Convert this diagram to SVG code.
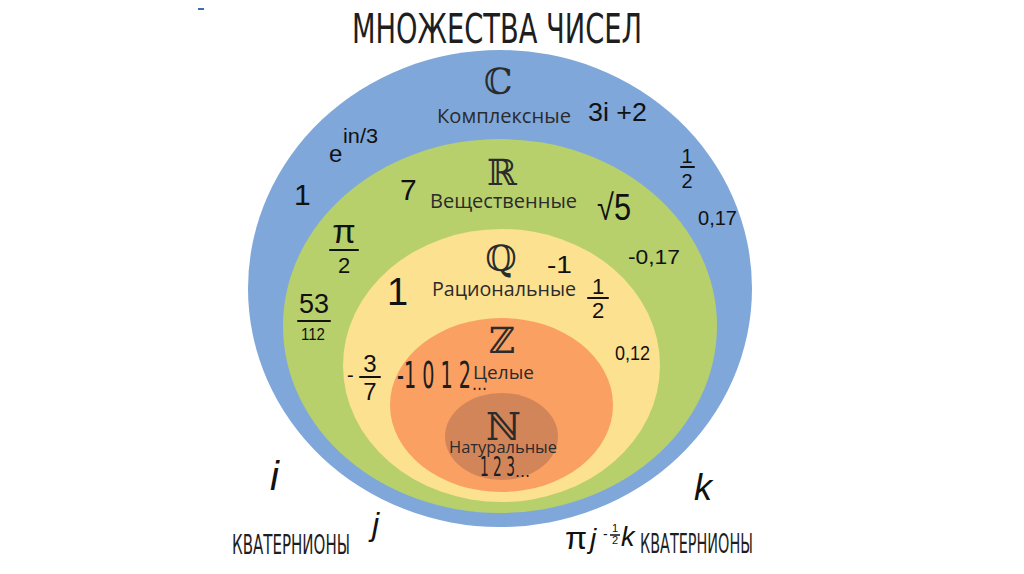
<svg xmlns="http://www.w3.org/2000/svg" width="1024" height="574" viewBox="0 0 1024 574">
<style>
.lbl{font-family:"Open Sans","Noto Sans","DejaVu Sans",sans-serif;fill:#2b2b2b}
.sym{font-family:"DejaVu Serif","DejaVu Sans",serif;fill:#2b2b2b;text-anchor:middle}
.hw{font-family:"Liberation Sans","DejaVu Sans",sans-serif;fill:#111}
.hwi{font-family:"Liberation Sans","DejaVu Sans",sans-serif;font-style:italic;fill:#111}
.cond{font-family:"DejaVu Sans","Liberation Sans",sans-serif;font-stretch:condensed;fill:#1e1e1e}
.bar{stroke:#111;stroke-width:2;stroke-linecap:round;fill:none}
</style>
<rect width="1024" height="574" fill="#ffffff"/>
<rect x="198" y="8" width="6" height="2" fill="#3a6fb0"/>
<text class="cond" x="352" y="43" font-size="40" textLength="290" lengthAdjust="spacingAndGlyphs">МНОЖЕСТВА ЧИСЕЛ</text>

<g id="set-C">
<ellipse cx="500" cy="288.5" rx="252" ry="238.5" fill="#7FA7DA"/>
<text class="sym" x="498" y="94" font-size="36">ℂ</text>
<text class="lbl" x="437" y="123" font-size="20" textLength="134" lengthAdjust="spacingAndGlyphs">Комплексные</text>
</g>
<g id="set-R">
<ellipse cx="500" cy="326" rx="217" ry="187" fill="#B7D06B"/>
<text class="sym" x="502" y="185" font-size="36">ℝ</text>
<text class="lbl" x="430" y="208" font-size="20" textLength="147" lengthAdjust="spacingAndGlyphs">Вещественные</text>
</g>
<g id="set-Q">
<ellipse cx="501.5" cy="365.5" rx="158.5" ry="136.5" fill="#FCE190"/>
<text class="sym" x="501" y="271" font-size="36">ℚ</text>
<text class="lbl" x="432" y="296" font-size="20" textLength="144" lengthAdjust="spacingAndGlyphs">Рациональные</text>
</g>
<g id="set-Z">
<ellipse cx="501.5" cy="405" rx="111.5" ry="87" fill="#F9A062"/>
<text class="sym" x="502" y="353" font-size="36">ℤ</text>
<text class="lbl" x="473" y="379" font-size="19" textLength="61" lengthAdjust="spacingAndGlyphs">Целые</text>
</g>
<g id="set-N">
<ellipse cx="501.5" cy="436.5" rx="56.5" ry="43.5" fill="#D3855A"/>
<text class="sym" x="503" y="440" font-size="38">ℕ</text>
<text class="lbl" x="449" y="453" font-size="16" textLength="108" lengthAdjust="spacingAndGlyphs">Натуральные</text>
</g>

<g id="connectors"></g>

<g id="examples">
<text class="hw" x="588" y="121" font-size="25" textLength="59" lengthAdjust="spacingAndGlyphs">3i +2</text>
<text class="hw" x="329" y="162" font-size="24">e</text>
<text class="hw" x="343" y="143" font-size="20" textLength="35" lengthAdjust="spacingAndGlyphs">in/3</text>
<text class="hw" x="294" y="205" font-size="30">1</text>
<text class="hw" x="687" y="163" font-size="20" text-anchor="middle">1</text>
<line class="bar" x1="681" y1="167" x2="694" y2="167"/>
<text class="hw" x="687" y="188" font-size="20" text-anchor="middle">2</text>
<text class="hw" x="698" y="225" font-size="20" textLength="39" lengthAdjust="spacingAndGlyphs">0,17</text>
<text class="hw" x="400" y="200" font-size="30">7</text>
<text class="hw" x="597" y="220" font-size="36" textLength="34" lengthAdjust="spacingAndGlyphs" font-family="DejaVu Sans">√5</text>
<text class="hw" x="344" y="243" font-size="34" text-anchor="middle" font-family="DejaVu Sans">π</text>
<line class="bar" x1="330" y1="250" x2="358" y2="250"/>
<text class="hw" x="344" y="273" font-size="22" text-anchor="middle">2</text>
<text class="hw" x="314" y="313" font-size="27" text-anchor="middle">53</text>
<line class="bar" x1="298" y1="321" x2="330" y2="321"/>
<text class="hw" x="313" y="340" font-size="17" text-anchor="middle" textLength="24" lengthAdjust="spacingAndGlyphs">112</text>
<text class="hw" x="628" y="264" font-size="21" textLength="52" lengthAdjust="spacingAndGlyphs">-0,17</text>
<text class="hw" x="387" y="305" font-size="38">1</text>
<text class="hw" x="547" y="273" font-size="24" textLength="25" lengthAdjust="spacingAndGlyphs">-1</text>
<text class="hw" x="598" y="294" font-size="22" text-anchor="middle">1</text>
<line class="bar" x1="588" y1="298" x2="608" y2="298"/>
<text class="hw" x="598" y="318" font-size="22" text-anchor="middle">2</text>
<text class="hw" x="615" y="360" font-size="21" textLength="35" lengthAdjust="spacingAndGlyphs">0,12</text>
<text class="hw" x="347" y="382" font-size="20">-</text>
<text class="hw" x="370" y="372" font-size="24" text-anchor="middle">3</text>
<line class="bar" x1="360" y1="377" x2="380" y2="377"/>
<text class="hw" x="370" y="400" font-size="24" text-anchor="middle">7</text>
<text class="cond" x="397" y="388" font-size="38" textLength="74" lengthAdjust="spacingAndGlyphs">-1 0 1 2</text>
<text class="cond" x="472" y="390" font-size="18" textLength="15" lengthAdjust="spacingAndGlyphs">...</text>
<text class="cond" x="480" y="476" font-size="27" textLength="35" lengthAdjust="spacingAndGlyphs">1 2 3</text>
<text class="cond" x="515" y="477" font-size="16" textLength="15" lengthAdjust="spacingAndGlyphs">...</text>
<text class="hwi" x="270" y="490" font-size="40">i</text>
<text class="hwi" x="372" y="535" font-size="32">j</text>
<text class="hwi" x="694" y="500" font-size="36">k</text>
<text class="hw" x="565" y="549" font-size="32" font-family="DejaVu Sans">π</text>
<text class="hwi" x="590" y="548" font-size="28">j</text>
<text class="hw" x="603" y="539" font-size="14">-</text>
<text class="hw" x="615" y="532" font-size="11" text-anchor="middle">1</text>
<line x1="610" y1="535" x2="620" y2="535" stroke="#111" stroke-width="1.5"/>
<text class="hw" x="615" y="544" font-size="11" text-anchor="middle">2</text>
<text class="hwi" x="621" y="546" font-size="27">k</text>
<text class="cond" x="232" y="554" font-size="26" textLength="118" lengthAdjust="spacingAndGlyphs">КВАТЕРНИОНЫ</text>
<text class="cond" x="640" y="553" font-size="26" textLength="113" lengthAdjust="spacingAndGlyphs">КВАТЕРНИОНЫ</text>
</g>
</svg>
